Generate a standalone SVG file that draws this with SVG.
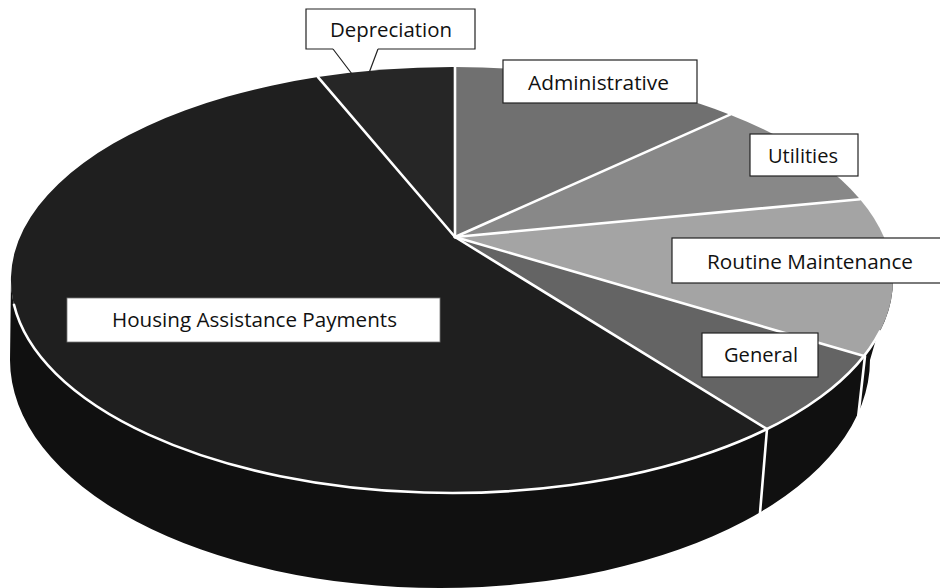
<svg xmlns="http://www.w3.org/2000/svg" width="940" height="588" viewBox="0 0 940 588">
<style>
.div{stroke:#fff;stroke-width:2.6;fill:none;stroke-linecap:round}
.box{fill:#fff;stroke:#222;stroke-width:1.2}
.lbl{font-family:"Open Sans","Noto Sans",sans-serif;font-size:19.5px;fill:#111;text-anchor:middle}
</style>
<rect width="940" height="588" fill="#fff"/>
<g id="side">
<path d="M11,280 A441,213 0 0 0 893,280 L870,360 A430,228 0 0 1 10,360 Z" fill="#101010"/>
</g>
<g id="slices">
<path id="housing" d="M455,237 L767,429.07 A441,213 0 1 1 318,77.1 Z" fill="#1f1f1f"/>
<path id="depreciation" d="M455,237 L318,77.1 A441,213 0 0 1 455,67 Z" fill="#262626"/>
<path id="administrative" d="M455,237 L455,67 A441,213 0 0 1 730,114.65 Z" fill="#707070"/>
<path id="utilities" d="M455,237 L730,114.65 A441,213 0 0 1 860,199.17 Z" fill="#888"/>
<path id="routine" d="M455,237 L860,199.17 A441,213 0 0 1 864,355.97 Z" fill="#a4a4a4"/>
<path id="general" d="M455,237 L864,355.97 A441,213 0 0 1 767,429.07 Z" fill="#646464"/>
</g>
<g id="connectors">
<path class="div" d="M455,237 L318,77.1"/>
<path class="div" d="M455,237 L455,67"/>
<path class="div" d="M455,237 L730,114.65"/>
<path class="div" d="M455,237 L860,199.17"/>
<path class="div" d="M455,237 L864,355.97"/>
<path class="div" d="M455,237 L767,429.07"/>
<path class="div" d="M14,304.8 A441,213 0 0 0 880,331.3"/>
<path class="div" d="M767,429 L760,513"/>
<path class="div" d="M865,356 L856,436"/>
</g>
<g id="label-depreciation">
<path class="box" d="M333,49 H306 V9 H475 V49 H378"/>
<path d="M333,49 L352,74 M378,49 L369,73" stroke="#222" stroke-width="1.2" fill="none"/>
<text class="lbl" x="391" y="37" textLength="122" lengthAdjust="spacingAndGlyphs">Depreciation</text>
</g>
<g id="label-administrative">
<rect class="box" x="503" y="60" width="194" height="43"/>
<text class="lbl" x="598.5" y="90" textLength="141" lengthAdjust="spacingAndGlyphs">Administrative</text>
</g>
<g id="label-utilities">
<rect class="box" x="750" y="134" width="108" height="42"/>
<text class="lbl" x="803" y="163" textLength="70" lengthAdjust="spacingAndGlyphs">Utilities</text>
</g>
<g id="label-routine">
<rect class="box" x="672" y="238" width="275" height="45"/>
<text class="lbl" x="810" y="269" textLength="206" lengthAdjust="spacingAndGlyphs">Routine Maintenance</text>
</g>
<g id="label-general">
<rect class="box" x="702" y="333" width="116" height="44"/>
<text class="lbl" x="761" y="362" textLength="74" lengthAdjust="spacingAndGlyphs">General</text>
</g>
<g id="label-housing">
<rect x="67" y="298" width="373" height="44" fill="#fff" stroke="#777" stroke-width="0.8"/>
<text class="lbl" x="254.5" y="327" textLength="285" lengthAdjust="spacingAndGlyphs">Housing Assistance Payments</text>
</g>
</svg>
